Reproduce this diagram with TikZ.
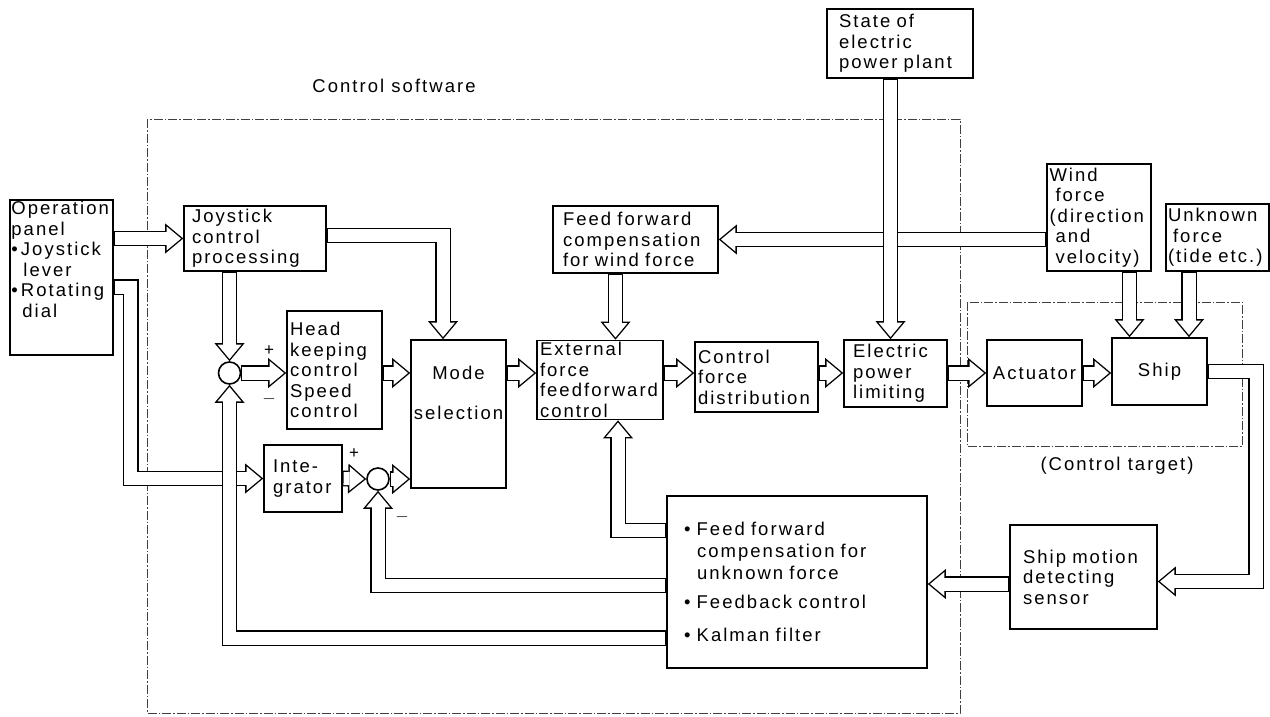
\documentclass[tikz,border=0pt]{standalone}
\usepackage{fontspec}
\setmainfont[LetterSpace=11]{Liberation Sans}
\usetikzlibrary{arrows.meta}

\tikzset{
  blk/.style={draw, line width=1.6pt, inner sep=2pt, align=left},
  % hollow double-line arrow: black band, then white core
  flow/.style={line width=15.8pt,
    -{Triangle[length=18pt, width=30pt, line width=0pt]},
    postaction={draw=white, line width=13pt, shorten <=0.8pt, shorten >=2.2pt,
      -{Triangle[length=14.4pt, width=24pt, line width=0pt]}}},
  sumpt/.style={draw, circle, line width=1.6pt, minimum size=22pt, inner sep=0pt},
  bound/.style={line width=0.9pt, black!75, dash pattern=on 9pt off 2pt on 1.5pt off 2pt},
  sgn/.style={font=\fontsize{17}{17}\selectfont, inner sep=0pt}
}

\begin{document}
\begin{tikzpicture}[x=1pt, y=-1pt,
    every node/.style={font=\fontsize{18.5}{20.5}\selectfont}]
    \useasboundingbox (0,0) rectangle (1270,717);
    % dashed boundaries
    \draw[bound] (147,119) rectangle (960,713);
    \draw[bound] (967,302) rectangle (1242,446);
    \node at (394,86) {Control software};
    \node at (1117,466) {(Control target)};
    % blocks
    \node[blk, minimum width=103pt, minimum height=155pt,
      label={[anchor=north west, inner sep=2pt, align=left]north west:{Operation\\panel\\•\,Joystick\\\hspace*{12pt}lever\\•\,Rotating\\\hspace*{11pt}dial}}]
      (op) at (61.5,277.5) {};
    \node[blk, minimum width=142pt, minimum height=65pt, text width=126pt]
      (joy) at (255,238.5) {Joystick\\control\\processing};
    \node[blk, minimum width=95pt, minimum height=118pt, text width=89pt]
      (head) at (334.5,370) {Head\\keeping\\control\\Speed\\control};
    \node[blk, minimum width=78pt, minimum height=67pt, text width=60pt]
      (integ) at (303,478.5) {Inte-\\grator};
    \node[blk, minimum width=95pt, minimum height=148pt,
      label={[anchor=north, inner sep=0pt, yshift=-27pt, align=center]north:{Mode\\[19pt]selection}}]
      (mode) at (458.5,414) {};
    \node[blk, minimum width=126pt, minimum height=78pt, text width=120pt]
      (ext) at (600,380) {External\\force\\feedforward\\control};
    \node[blk, minimum width=123pt, minimum height=70pt, text width=117pt]
      (dist) at (756.5,377) {Control\\force\\distribution};
    \node[blk, minimum width=103pt, minimum height=67pt, text width=85pt]
      (power) at (895.5,373.5) {Electric\\power\\limiting};
    \node[blk, minimum width=95pt, minimum height=66pt, align=center]
      (act) at (1034.5,373) {Actuator};
    \node[blk, minimum width=95pt, minimum height=67pt, align=center]
      (ship) at (1159.5,371.5) {Ship};
    \node[blk, minimum width=147pt, minimum height=104pt, text width=121pt]
      (sensor) at (1083.5,577) {Ship motion\\detecting\\sensor};
    \node[blk, minimum width=260pt, minimum height=172pt, text width=226pt]
      (est) at (797,582) {•\ Feed forward\\[1.5pt]
        \hspace*{13pt}compensation for\\[1.5pt]
        \hspace*{13pt}unknown force\\[8pt]
        •\ Feedback control\\[13pt]
        •\ Kalman filter};
    \node[blk, minimum width=165pt, minimum height=67pt, text width=145pt]
      (windff) at (635.5,239.5) {Feed forward\\compensation\\for wind force};
    \node[blk, minimum width=146pt, minimum height=69pt, text width=122pt]
      (state) at (900,43.5) {State of\\electric\\power plant};
    \node[blk, minimum width=104pt, minimum height=107pt, text width=99pt]
      (wind) at (1099,217.5) {Wind\\\hspace*{6pt}force\\(direction\\\hspace*{6pt}and\\\hspace*{6pt}velocity)};
    \node[blk, minimum width=101pt, minimum height=67pt, text width=99pt]
      (unk) at (1217.5,237.5) {Unknown\\\hspace*{5pt}force\\(tide etc.)};
    % summing points
    \node[sumpt] (c1) at (229.5,373) {};
    \node[sumpt] (c2) at (378,479) {};
    \node[sgn] at (269,351) {+};
    \node[sgn] at (269,399) {$-$};
    \node[sgn] at (354,454) {+};
    \node[sgn] at (402,517) {$-$};
    % signal flow
    \draw[flow] (op.east |- joy.west) -- (joy.west);
    \draw[flow] ([yshift=-9.5pt]op.east) -- ++(17,0) |- (integ.west);
    \draw[flow] (joy.south -| c1) -- (c1.north);
    \draw[flow] ([yshift=3pt]joy.east) -| ([xshift=-15.5pt]mode.north);
    \draw[flow] (c1.east) -- (c1.east -| head.west);
    \draw[flow] (head.east |- c1) -- (mode.west |- c1);
    \draw[flow] (integ.east) -- (c2.west);
    \draw[flow] (c2.east) -- (c2.east -| mode.west);
    \draw[flow] (mode.east |- c1) -- (ext.west |- c1);
    \draw[flow] (ext.east |- c1) -- (dist.west |- c1);
    \draw[flow] (dist.east |- c1) -- (power.west |- c1);
    \draw[flow] (power.east |- c1) -- (act.west |- c1);
    \draw[flow] (act.east |- c1) -- (ship.west |- c1);
    \draw[flow] ([xshift=-20pt]windff.south) -- ([xshift=15.5pt]ext.north);
    \draw[flow] (wind.west |- windff.east) -- (windff.east);
    \draw[flow] ([xshift=-9.5pt]state.south) -- ([xshift=-5pt]power.north);
    \draw[flow] ([xshift=30.5pt]wind.south) -- ([xshift=-30pt]ship.north);
    \draw[flow] ([xshift=-28.5pt]unk.south) -- ([xshift=29.5pt]ship.north);
    \draw[flow] (ship.east) -- ++(48.5,0) |- ([yshift=-4.5pt]sensor.east);
    \draw[flow] ([yshift=-7pt]sensor.west) -- ([yshift=-7pt]sensor.west -| est.east);
    \draw[flow] ([yshift=51.5pt]est.west) -| ([xshift=18pt]ext.south);
    \draw[flow] ([yshift=-3.5pt]est.west) -| (c2.south);
    \draw[flow] ([yshift=-56pt]est.west) -| (c1.south);
\end{tikzpicture}
\end{document}
